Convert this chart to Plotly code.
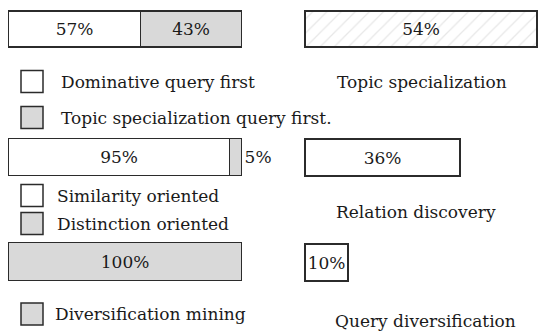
import plotly.graph_objects as go

# ---------------- data ----------------
query_order_labels = ["Dominative query first", "Topic specialization query first."]
query_order_values = [57, 43]

orientation_labels = ["Similarity oriented", "Distinction oriented"]
orientation_values = [95, 5]

mining_labels = ["Diversification mining"]
mining_values = [100]

right_labels = ["Topic specialization", "Relation discovery", "Query diversification"]
right_values = [54, 36, 10]

# ---------------- styling ----------------
W, H = 550, 336
FONT = "DejaVu Serif, Liberation Serif, serif"
GRAY = "#d9d9d9"
EDGE = "#2b2b2b"
TXT = "#1a1a1a"

fig = go.Figure()

def xdom(px0, px1, r0, r1, v0, v1):
    scale = (px1 - px0) / (v1 - v0)
    a = px0 - (v0 - r0) * scale
    b = px1 + (r1 - v1) * scale
    return [a / W, b / W]

def ydom(top_px, bot_px, width=0.9):
    h = (bot_px - top_px) / width
    c = (top_px + bot_px) / 2
    return [1 - (c + h / 2) / H, 1 - (c - h / 2) / H]

L_RANGE = (-2, 102)
R_RANGE = (-1.2, 55.2)
left_x = xdom(9, 242, L_RANGE[0], L_RANGE[1], 0, 100)
right_x = xdom(306, 538, R_RANGE[0], R_RANGE[1], 0, 54)

rows_left = [(11.5, 47.5), (139.5, 176.5), (243.5, 281.5)]
rows_right = [(11.5, 47.5), (140, 176.5), (245, 281.5)]

layout_axes = {}
def add_axes(i, xd, rng, yd):
    sx = "" if i == 1 else str(i)
    layout_axes["xaxis" + sx] = dict(domain=xd, range=list(rng), visible=False,
                                     anchor="y" + sx, fixedrange=True)
    layout_axes["yaxis" + sx] = dict(domain=yd, range=[-0.5, 0.5], visible=False,
                                     anchor="x" + sx, fixedrange=True)

add_axes(1, left_x, L_RANGE, ydom(*rows_left[0]))
add_axes(2, left_x, L_RANGE, ydom(*rows_left[1]))
add_axes(3, left_x, L_RANGE, ydom(*rows_left[2]))
add_axes(4, right_x, R_RANGE, ydom(*rows_right[0]))
add_axes(5, right_x, R_RANGE, ydom(*rows_right[1]))
add_axes(6, right_x, R_RANGE, ydom(*rows_right[2]))

def bar(val, idx, color, pattern=None, pos="inside"):
    sx = "" if idx == 1 else str(idx)
    marker = dict(color=color, line=dict(color=EDGE, width=1.5))
    if pattern:
        marker["pattern"] = pattern
    fig.add_trace(go.Bar(
        x=[val], y=[0], orientation="h", width=0.9,
        marker=marker, xaxis="x" + sx, yaxis="y" + sx,
        text=[f"{val}%"], textposition=pos, insidetextanchor="middle",
        textangle=0, constraintext="none", cliponaxis=False,
        textfont=dict(family=FONT, size=17, color=TXT),
        showlegend=False, hoverinfo="skip",
    ))

bar(query_order_values[0], 1, "white")
bar(query_order_values[1], 1, GRAY)
bar(orientation_values[0], 2, "white")
bar(orientation_values[1], 2, GRAY, pos="outside")
bar(mining_values[0], 3, GRAY)

bar(right_values[0], 4, "white",
    pattern=dict(shape="/", fgcolor="#cfcfcf", bgcolor="white", size=10, solidity=0.12))
bar(right_values[1], 5, "white")
bar(right_values[2], 6, "white")

shapes = []
annotations = []
def swatch(x0, ycen, color, label, tx):
    shapes.append(dict(type="rect", xref="paper", yref="paper",
                       x0=x0 / W, x1=(x0 + 22) / W,
                       y0=1 - (ycen + 11) / H, y1=1 - (ycen - 11) / H,
                       fillcolor=color, line=dict(color=EDGE, width=1.5)))
    annotations.append(dict(xref="paper", yref="paper", x=tx / W, y=1 - ycen / H,
                            xanchor="left", yanchor="middle", text=label, showarrow=False,
                            font=dict(family=FONT, size=17, color=TXT)))

swatch(21, 81.5, "white", query_order_labels[0], 59)
swatch(21, 117.5, GRAY, query_order_labels[1], 59)
swatch(21, 195.5, "white", orientation_labels[0], 55)
swatch(21, 223.5, GRAY, orientation_labels[1], 55)
swatch(21, 314, GRAY, mining_labels[0], 53)

for lab, (cx, cy) in zip(right_labels, [(422, 82), (416, 212), (425, 321)]):
    annotations.append(dict(xref="paper", yref="paper", x=cx / W, y=1 - cy / H,
                            xanchor="center", yanchor="middle", text=lab, showarrow=False,
                            font=dict(family=FONT, size=17, color=TXT)))

fig.update_layout(
    width=W, height=H, margin=dict(l=0, r=0, t=0, b=0),
    paper_bgcolor="white", plot_bgcolor="rgba(0,0,0,0)",
    barmode="stack", bargap=0, showlegend=False,
    shapes=shapes, annotations=annotations,
    **layout_axes,
)

fig.write_html("out.html", config={"displayModeBar": False},
               post_script="document.body.style.margin='0';document.body.style.overflow='hidden';")
